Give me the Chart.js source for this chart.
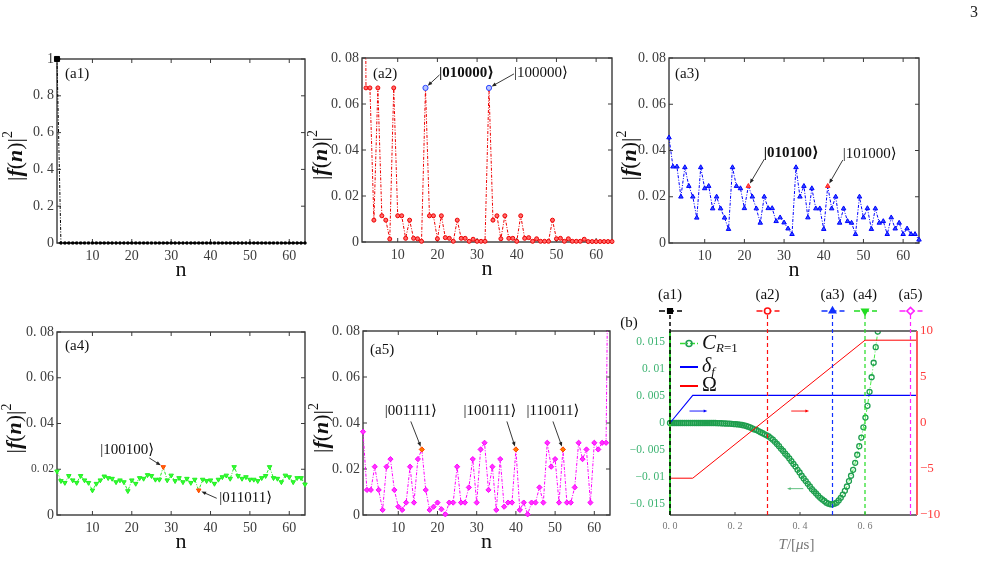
<!DOCTYPE html>
<html>
<head>
<meta charset="utf-8">
<script src="https://cdn.jsdelivr.net/npm/chart.js@4.4.1/dist/chart.umd.min.js"></script>
<style>
    html, body { margin: 0; padding: 0; background: #fff; }
    #page { position: relative; width: 987px; height: 580px; overflow: hidden; }
    #page canvas { position: absolute; left: 0; top: 0; }
    #pageno { position: absolute; left: 970px; top: 3px; font: 16px 'Liberation Serif', 'DejaVu Serif', serif; color: #222; }
</style>
</head>
<body>
<div id="page">
    <canvas id="a1" width="987" height="580"></canvas>
    <canvas id="a2" width="987" height="580"></canvas>
    <canvas id="a3" width="987" height="580"></canvas>
    <canvas id="a4" width="987" height="580"></canvas>
    <canvas id="a5" width="987" height="580"></canvas>
    <canvas id="b" width="987" height="580"></canvas>
    <div id="pageno">3</div>
</div>
<script>
// basis states n = 1..64
const nValues = Array.from({ length: 64 }, (_, i) => i + 1);
const nTicks = [10, 20, 30, 40, 50, 60];
const probTicks = [0, 0.02, 0.04, 0.06, 0.08];
const probTicksA1 = [0, 0.2, 0.4, 0.6, 0.8, 1];

// |f(n)|^2
const probA1 = [1, 0, 0, 0, 0, 0, 0, 0, 0, 0, 0, 0, 0, 0, 0, 0,
    0, 0, 0, 0, 0, 0, 0, 0, 0, 0, 0, 0, 0, 0, 0, 0,
    0, 0, 0, 0, 0, 0, 0, 0, 0, 0, 0, 0, 0, 0, 0, 0,
    0, 0, 0, 0, 0, 0, 0, 0, 0, 0, 0, 0, 0, 0, 0, 0];
const probA2 = [0.45, 0.067, 0.067, 0.0095, 0.067, 0.0114, 0.0095, 0.0013, 0.067, 0.0114,
    0.0114, 0.0016, 0.0095, 0.0016, 0.0014, 0.0003, 0.067, 0.0114, 0.0114, 0.0014,
    0.0114, 0.0019, 0.0016, 0.0003, 0.0095, 0.0016, 0.0016, 0.0003, 0.0012, 0.0003,
    0.0003, 0.0003, 0.067, 0.0095, 0.0114, 0.0014, 0.0114, 0.0016, 0.0016, 0.0003,
    0.0114, 0.0016, 0.0019, 0.0003, 0.0014, 0.0003, 0.0003, 0.0003, 0.0095, 0.0014,
    0.0016, 0.0003, 0.0014, 0.0003, 0.0003, 0.0003, 0.0012, 0.0002, 0.0002, 0.0002,
    0.0002, 0.0002, 0.0002, 0.0002];
const probA3 = [0.0456, 0.033, 0.033, 0.020, 0.0327, 0.0246, 0.020, 0.0109, 0.0327, 0.0236,
    0.0246, 0.0149, 0.020, 0.0149, 0.0109, 0.006, 0.0327, 0.0246, 0.0236, 0.015,
    0.0246, 0.020, 0.0149, 0.0087, 0.020, 0.015, 0.015, 0.0094, 0.011, 0.0088,
    0.0062, 0.0038, 0.0327, 0.020, 0.0246, 0.011, 0.0236, 0.0149, 0.0149, 0.006,
    0.0246, 0.0149, 0.020, 0.0087, 0.0149, 0.0094, 0.0087, 0.0038, 0.020, 0.011,
    0.015, 0.006, 0.0149, 0.0087, 0.0094, 0.0038, 0.011, 0.0062, 0.0087, 0.0038,
    0.0062, 0.0038, 0.0038, 0.0014];
const probA4 = [0.0191, 0.0149, 0.0141, 0.0171, 0.0152, 0.0141, 0.0171, 0.0152, 0.0141, 0.0108,
    0.0137, 0.0152, 0.0169, 0.0162, 0.0159, 0.0144, 0.0152, 0.0144, 0.0105, 0.0152,
    0.0137, 0.0162, 0.0159, 0.0175, 0.0171, 0.0155, 0.0155, 0.021, 0.0152, 0.0173,
    0.0149, 0.0162, 0.0144, 0.0159, 0.0141, 0.0155, 0.0108, 0.0155, 0.0149, 0.0152,
    0.0137, 0.0155, 0.0166, 0.0173, 0.0159, 0.021, 0.0171, 0.0159, 0.0166, 0.0155,
    0.0155, 0.0149, 0.0162, 0.0171, 0.021, 0.0162, 0.0159, 0.0144, 0.0173, 0.0166,
    0.0144, 0.0162, 0.0162, 0.0134];
const probA5 = [0.0362, 0.0109, 0.0109, 0.021, 0.0109, 0.0022, 0.021, 0.0243, 0.0109, 0.0036,
    0.0022, 0.0054, 0.021, 0.0054, 0.0243, 0.0285, 0.0109, 0.0022, 0.0036, 0.0054,
    0.0025, 0.0003, 0.0054, 0.0054, 0.021, 0.0054, 0.0054, 0.012, 0.0243, 0.0054,
    0.0285, 0.0314, 0.0109, 0.021, 0.0022, 0.0243, 0.0036, 0.0054, 0.0054, 0.0285,
    0.0022, 0.0054, 0.0003, 0.0054, 0.0054, 0.012, 0.0054, 0.0314, 0.021, 0.0243,
    0.0054, 0.0285, 0.0054, 0.0054, 0.012, 0.0314, 0.0243, 0.0285, 0.0054, 0.0314,
    0.0285, 0.0314, 0.0314, 0.2];

// highlighted states and their kets
const hlA2 = [17, 33];
const hlA3 = [21, 41];
const hlA4 = [28, 37];
const hlA5 = [16, 40, 52];
const ketsA2 = ['|010000\u27E9', '|100000\u27E9'];
const ketsA3 = ['|010100\u27E9', '|101000\u27E9'];
const ketsA4 = ['|100100\u27E9', '|011011\u27E9'];
const ketsA5 = ['|001111\u27E9', '|100111\u27E9', '|110011\u27E9'];

// panel (b)
const tStep = 0.00633;
const coherence = [0, 0, 0, 0, 0, 0, 0, 0, 0, 0,
    0, 0, 0, 0, 0, 0, 0, 0, 0, 0,
    0, 0, 0, -0.00003, -0.00004, -0.00005, -0.00007, -0.00009, -0.00011, -0.00013,
    -0.00015, -0.0002, -0.00022, -0.00026, -0.0003, -0.00037, -0.00046, -0.00056, -0.00068, -0.00082,
    -0.0010, -0.0012, -0.0013, -0.0015, -0.0017, -0.0019, -0.0021, -0.0023, -0.0025, -0.0028,
    -0.0031, -0.0035, -0.0039, -0.0043, -0.0048, -0.0052, -0.0057, -0.0061, -0.0066, -0.0071,
    -0.0076, -0.0081, -0.0087, -0.0092, -0.0098, -0.0103, -0.0108, -0.0113, -0.0118, -0.0123,
    -0.0127, -0.0131, -0.0135, -0.0139, -0.0142, -0.0145, -0.0148, -0.0150, -0.0151, -0.0151,
    -0.0150, -0.0148, -0.0144, -0.0139, -0.0133, -0.0126, -0.0118, -0.0108, -0.0098, -0.0087,
    -0.0074, -0.0059, -0.0043, -0.0027, -0.0008, 0.0010, 0.0032, 0.0058, 0.0085, 0.0112,
    0.0141, 0.0170, 0.0200];
const omegaT = [0, 0.07, 0.6, 0.76];
const omegaV = [-6, -6, 9, 9];
const detuneT = [0, 0.07, 0.76];
const detuneV = [0, 3, 3];
const markT = [0, 0.3, 0.5, 0.6, 0.74];
const markLabels = ['(a1)', '(a2)', '(a3)', '(a4)', '(a5)'];
const tTicks = [0, 0.2, 0.4, 0.6];
const cTicks = [-0.015, -0.01, -0.005, 0, 0.005, 0.01, 0.015];
const rightTicks = [-10, -5, 0, 5, 10];

const SERIF = "'Liberation Serif', 'DejaVu Serif', serif";
const TICK_COLOR = '#3c3c3c';

function fmtTick(v) {
    const a = Math.abs(v) < 1e-12 ? '0' : String(+Math.abs(v).toFixed(4));
    return (v < -1e-12 ? '\u2212' : '') + a.replace('.', '. ');
}

function drawRich(ctx, parts, x, y, rot, color) {
    ctx.save();
    ctx.translate(x, y);
    ctx.rotate(rot || 0);
    ctx.fillStyle = color || '#111';
    ctx.textBaseline = 'middle';
    ctx.textAlign = 'left';
    let w = 0;
    parts.forEach(p => { ctx.font = p.font; p.w = ctx.measureText(p.t).width; w += p.w; });
    let cx = -w / 2;
    parts.forEach(p => { ctx.font = p.font; ctx.fillText(p.t, cx, p.dy || 0); cx += p.w; });
    ctx.restore();
}

function drawArrow(ctx, x1, y1, x2, y2, color, head) {
    const a = Math.atan2(y2 - y1, x2 - x1);
    const h = head || 5;
    ctx.save();
    ctx.strokeStyle = color;
    ctx.fillStyle = color;
    ctx.lineWidth = 0.9;
    ctx.setLineDash([]);
    ctx.beginPath();
    ctx.moveTo(x1, y1);
    ctx.lineTo(x2 - h * 0.7 * Math.cos(a), y2 - h * 0.7 * Math.sin(a));
    ctx.stroke();
    ctx.beginPath();
    ctx.moveTo(x2, y2);
    ctx.lineTo(x2 - h * Math.cos(a - 0.38), y2 - h * Math.sin(a - 0.38));
    ctx.lineTo(x2 - h * Math.cos(a + 0.38), y2 - h * Math.sin(a + 0.38));
    ctx.closePath();
    ctx.fill();
    ctx.restore();
}

const yTitleParts = () => [
    { t: '|', font: '22px ' + SERIF },
    { t: 'f', font: 'italic bold 22px ' + SERIF },
    { t: '(', font: '22px ' + SERIF },
    { t: 'n', font: 'italic bold 22px ' + SERIF },
    { t: ')|', font: '22px ' + SERIF },
    { t: '2', font: '14px ' + SERIF, dy: -8 }
];

function panelPlugin(p) {
    return {
        id: 'frame_' + p.id,
        beforeDatasetsDraw(chart) {
            const ctx = chart.ctx, a = chart.chartArea;
            const xs = chart.scales.x, ys = chart.scales.y;
            ctx.save();
            ctx.strokeStyle = '#3a3a3a';
            ctx.lineWidth = 1;
            ctx.beginPath();
            xs.ticks.forEach(t => {
                const x = xs.getPixelForValue(t.value);
                ctx.moveTo(x, a.bottom); ctx.lineTo(x, a.bottom - 4);
                ctx.moveTo(x, a.top); ctx.lineTo(x, a.top + 4);
            });
            ys.ticks.forEach(t => {
                const y = ys.getPixelForValue(t.value);
                ctx.moveTo(a.left, y); ctx.lineTo(a.left + 4, y);
                ctx.moveTo(a.right, y); ctx.lineTo(a.right - 4, y);
            });
            ctx.stroke();
            ctx.lineWidth = 1.4;
            ctx.strokeRect(a.left, a.top, a.right - a.left, a.bottom - a.top);
            ctx.restore();
        },
        afterDraw(chart) {
            const ctx = chart.ctx, a = chart.chartArea;
            const xs = chart.scales.x, ys = chart.scales.y;
            // axis titles
            drawRich(ctx, yTitleParts(), a.left - p.titleGap, (a.top + a.bottom) / 2 + 5, -Math.PI / 2);
            drawRich(ctx, [{ t: 'n', font: '22px ' + SERIF }], (a.left + a.right) / 2, a.bottom + 27, 0);
            // panel label
            ctx.save();
            ctx.font = '15px ' + SERIF;
            ctx.fillStyle = '#111';
            ctx.textBaseline = 'middle';
            ctx.fillText(p.label, a.left + p.labelPos[0], a.top + p.labelPos[1]);
            ctx.restore();
            // kets with arrows
            p.highlight.forEach((n, i) => {
                const note = p.notes[i];
                const mx = xs.getPixelForValue(n), my = ys.getPixelForValue(p.values[n - 1]);
                drawRich(ctx, [{ t: p.kets[i], font: (note.bold ? 'bold ' : '') + '15px ' + SERIF }],
                    mx + note.dx, my + note.dy, 0, '#111');
                const tx = mx + note.tx, ty = my + note.ty;
                const ang = Math.atan2(my - ty, mx - tx);
                drawArrow(ctx, tx, ty, mx - 3 * Math.cos(ang), my - 3 * Math.sin(ang), '#222', 5);
            });
        }
    };
}

function makePanel(p) {
    const W_Y = 57, H_X = 40;
    const pts = nValues.map((n, i) => ({ x: n, y: p.values[i] }));
    const isHl = nValues.map(n => p.highlight.includes(n));
    new Chart(document.getElementById(p.id), {
        type: 'line',
        data: {
            datasets: [{
                data: pts,
                borderColor: p.color,
                borderWidth: 1,
                borderDash: [3, 1.5, 1, 1.5],
                tension: 0,
                pointStyle: p.marker,
                rotation: p.rotation || 0,
                pointRadius: p.radius,
                pointBackgroundColor: isHl.map(h => h ? p.hlFill : p.fill),
                pointBorderColor: isHl.map(h => h ? p.hlColor : p.color),
                pointBorderWidth: 1,
                clip: p.clip
            }]
        },
        options: {
            responsive: false,
            animation: false,
            events: [],
            layout: { padding: { left: p.rect[0] - W_Y, top: p.rect[1], right: 987 - p.rect[2], bottom: 580 - p.rect[3] - H_X } },
            plugins: { legend: { display: false }, tooltip: { enabled: false } },
            scales: {
                x: {
                    type: 'linear', min: 1, max: 64,
                    grid: { display: false, drawTicks: false, tickLength: 0 }, border: { display: false },
                    afterBuildTicks: s => { s.ticks = nTicks.map(v => ({ value: v })); },
                    afterFit: s => { s.height = H_X; },
                    ticks: { font: { family: SERIF, size: 14 }, color: TICK_COLOR, padding: 5, maxRotation: 0, autoSkip: false }
                },
                y: {
                    min: 0, max: p.yMax,
                    grid: { display: false, drawTicks: false, tickLength: 0 }, border: { display: false },
                    afterBuildTicks: s => { s.ticks = p.yTicks.map(v => ({ value: v })); },
                    afterFit: s => { s.width = W_Y; },
                    ticks: {
                        font: c => ({ family: SERIF, size: (p.smallTick !== undefined && c.tick && Math.abs(c.tick.value - p.smallTick) < 1e-9) ? 11.5 : 14 }),
                        color: TICK_COLOR, padding: 3, autoSkip: false,
                        callback: v => fmtTick(v)
                    }
                }
            }
        },
        plugins: [panelPlugin(p)]
    });
}

const clipTopOnly = { left: 6, right: 6, top: 0, bottom: 6 };

makePanel({
    id: 'a1', rect: [57, 59, 305, 243], values: probA1, yMax: 1, yTicks: probTicksA1,
    color: '#000', fill: '#000', marker: 'rect', radius: nValues.map(n => n === 1 ? 3.6 : 1.5),
    highlight: [], kets: [], notes: [], hlColor: '#000', hlFill: '#000', clip: false,
    label: '(a1)', labelPos: [8, 15], titleGap: 41
});
makePanel({
    id: 'a2', rect: [362, 58, 612, 242], values: probA2, yMax: 0.08, yTicks: probTicks,
    color: '#ee0000', fill: '#ff6a6a', marker: 'circle', radius: nValues.map(n => hlA2.includes(n) ? 2.6 : 2),
    highlight: hlA2, kets: ketsA2, hlColor: '#2a44ff', hlFill: '#b8c4ff', clip: clipTopOnly,
    notes: [{ dx: 41, dy: -15, tx: 14, ty: -13, bold: true }, { dx: 52, dy: -15, tx: 25, ty: -14 }],
    label: '(a2)', labelPos: [11, 16], titleGap: 41
});
makePanel({
    id: 'a3', rect: [669, 58, 919, 243], values: probA3, yMax: 0.08, yTicks: probTicks,
    color: '#0000ff', fill: '#3050ff', marker: 'triangle', radius: 2.6,
    highlight: hlA3, kets: ketsA3, hlColor: '#ff2020', hlFill: '#ff5050', clip: clipTopOnly,
    notes: [{ dx: 43, dy: -33, tx: 16, ty: -27, bold: true }, { dx: 42, dy: -32, tx: 15, ty: -26 }],
    label: '(a3)', labelPos: [6, 16], titleGap: 39
});
makePanel({
    id: 'a4', rect: [57, 332, 305, 515], values: probA4, yMax: 0.08, yTicks: probTicks, smallTick: 0.02,
    color: '#22ee22', fill: '#33ff33', marker: 'triangle', rotation: 180, radius: 2.6,
    highlight: hlA4, kets: ketsA4, hlColor: '#ff4400', hlFill: '#ff6a00', clip: clipTopOnly,
    notes: [{ dx: -36, dy: -17, tx: -14, ty: -9 }, { dx: 47, dy: 8, tx: 18, ty: 8 }],
    label: '(a4)', labelPos: [8, 14], titleGap: 42
});
makePanel({
    id: 'a5', rect: [363, 331, 610, 515], values: probA5, yMax: 0.08, yTicks: probTicks,
    color: '#ff00ff', fill: '#ff33ff', marker: 'rectRot', radius: 2.6,
    highlight: hlA5, kets: ketsA5, hlColor: '#ff4400', hlFill: '#ff7a00', clip: clipTopOnly,
    notes: [{ dx: -11, dy: -38, tx: -11, ty: -28 }, { dx: -26, dy: -38, tx: -9, ty: -28 }, { dx: -10, dy: -38, tx: -10, ty: -28 }],
    label: '(a5)', labelPos: [7, 19], titleGap: 41
});

// ---------- panel (b) ----------
const markStyles = [
    { color: '#000000', style: 'rect', fill: '#000000', r: 3.2, rot: 0 },
    { color: '#ff1010', style: 'circle', fill: '#ffffff', r: 3, rot: 0 },
    { color: '#1030ff', style: 'triangle', fill: '#1030ff', r: 3.6, rot: 0 },
    { color: '#22dd22', style: 'triangle', fill: '#22dd22', r: 3.6, rot: 180 },
    { color: '#ff22ff', style: 'rectRot', fill: '#ffffff', r: 3.6, rot: 0 }
];

const bPlugin = {
    id: 'bframe',
    afterDatasetsDraw(chart) {
        const ctx = chart.ctx, a = chart.chartArea;
        const xs = chart.scales.x, yl = chart.scales.y, yr = chart.scales.y2;
        ctx.save();
        // spines
        ctx.lineWidth = 1.5;
        ctx.strokeStyle = '#444';
        ctx.beginPath();
        ctx.moveTo(a.left, a.top); ctx.lineTo(a.right, a.top);
        ctx.moveTo(a.left, a.bottom); ctx.lineTo(a.right, a.bottom);
        ctx.stroke();
        ctx.beginPath();
        tTicks.forEach(t => {
            const x = xs.getPixelForValue(t);
            ctx.moveTo(x, a.bottom); ctx.lineTo(x, a.bottom - 3);
        });
        ctx.lineWidth = 1;
        ctx.stroke();
        ctx.lineWidth = 2;
        ctx.strokeStyle = '#ff5a5a';
        ctx.beginPath(); ctx.moveTo(a.right, a.top); ctx.lineTo(a.right, a.bottom); ctx.stroke();
        ctx.strokeStyle = '#2fd12f';
        ctx.beginPath(); ctx.moveTo(a.left, a.top); ctx.lineTo(a.left, a.bottom); ctx.stroke();

        // marker lines for panels (a1)-(a5)
        markT.forEach((t, i) => {
            const st = markStyles[i];
            const x = xs.getPixelForValue(t);
            const my = a.top - 20;
            ctx.setLineDash([4, 3]);
            ctx.lineWidth = i === 0 ? 1.5 : 1.2;
            ctx.strokeStyle = st.color;
            ctx.beginPath(); ctx.moveTo(x, my + 4); ctx.lineTo(x, a.bottom); ctx.stroke();
            ctx.setLineDash([6, 3]);
            ctx.lineWidth = 1.6;
            ctx.beginPath(); ctx.moveTo(x - 11, my); ctx.lineTo(x + 12, my); ctx.stroke();
            ctx.setLineDash([]);
            ctx.fillStyle = st.fill;
            ctx.strokeStyle = st.color;
            Chart.helpers.drawPoint(ctx, { pointStyle: st.style, radius: st.r, rotation: st.rot, borderWidth: 1.3 }, x, my);
            ctx.fillStyle = '#111';
            ctx.font = '15px ' + SERIF;
            ctx.textAlign = 'center';
            ctx.textBaseline = 'middle';
            ctx.fillText(markLabels[i], x, a.top - 36);
        });

        // legend
        const lx = a.left + 10, lw = 18;
        const rows = [a.top + 12.5, a.top + 36, a.top + 55];
        ctx.setLineDash([5, 2, 1, 2]);
        ctx.lineWidth = 1.5;
        ctx.strokeStyle = '#33dd33';
        ctx.beginPath(); ctx.moveTo(lx, rows[0]); ctx.lineTo(lx + lw, rows[0]); ctx.stroke();
        ctx.setLineDash([]);
        ctx.strokeStyle = '#1e9e4e';
        ctx.fillStyle = 'rgba(0,0,0,0)';
        Chart.helpers.drawPoint(ctx, { pointStyle: 'circle', radius: 3, borderWidth: 1.8 }, lx + lw / 2, rows[0]);
        ctx.lineWidth = 2;
        ctx.strokeStyle = '#0000ff';
        ctx.beginPath(); ctx.moveTo(lx, rows[1]); ctx.lineTo(lx + lw, rows[1]); ctx.stroke();
        ctx.strokeStyle = '#ff0000';
        ctx.beginPath(); ctx.moveTo(lx, rows[2]); ctx.lineTo(lx + lw, rows[2]); ctx.stroke();
        ctx.restore();

        const leg = [
            [{ t: 'C', font: 'italic 21px ' + SERIF }, { t: 'R', font: 'italic 13px ' + SERIF, dy: 5 }, { t: '=1', font: '13px ' + SERIF, dy: 5 }],
            [{ t: '\u03B4', font: 'italic 20px ' + SERIF }, { t: 'f', font: 'italic 13px ' + SERIF, dy: 6 }],
            [{ t: '\u03A9', font: '20px ' + SERIF }]
        ];
        leg.forEach((parts, i) => {
            ctx.save();
            let w = 0;
            parts.forEach(p => { ctx.font = p.font; w += ctx.measureText(p.t).width; });
            ctx.restore();
            drawRich(ctx, parts, lx + lw + 4 + w / 2, rows[i], 0, '#111');
        });

        // direction arrows
        const yb = yr.getPixelForValue(1.3);
        drawArrow(ctx, xs.getPixelForValue(0.06), yb, xs.getPixelForValue(0.115), yb, '#0000ff', 4);
        drawArrow(ctx, xs.getPixelForValue(0.373), yb, xs.getPixelForValue(0.428), yb, '#ff0000', 4);
        const yg = yl.getPixelForValue(-0.0122);
        drawArrow(ctx, xs.getPixelForValue(0.41), yg, xs.getPixelForValue(0.36), yg, '#55bb77', 4);

        // titles
        drawRich(ctx, [
            { t: 'T', font: 'italic 15px ' + SERIF }, { t: '/[', font: '15px ' + SERIF },
            { t: '\u03BC', font: 'italic 15px ' + SERIF }, { t: 's]', font: '15px ' + SERIF }
        ], (a.left + a.right) / 2 + 3, a.bottom + 30, 0, '#777');
        drawRich(ctx, [{ t: '(b)', font: '15px ' + SERIF }], a.left - 41, a.top - 8, 0, '#111');
    }
};

const W_L = 60, W_R = 30, H_B = 40;
const bRect = [670, 331, 917, 515];
const bGrid = { display: false, drawTicks: false, tickLength: 0 };
new Chart(document.getElementById('b'), {
    type: 'line',
    data: {
        datasets: [
            {
                label: '\u03A9', yAxisID: 'y2',
                data: omegaT.map((t, i) => ({ x: t, y: omegaV[i] })),
                borderColor: '#ff0000', borderWidth: 1, pointRadius: 0, tension: 0
            },
            {
                label: '\u03B4f', yAxisID: 'y2',
                data: detuneT.map((t, i) => ({ x: t, y: detuneV[i] })),
                borderColor: '#0000ff', borderWidth: 1.1, pointRadius: 0, tension: 0
            },
            {
                label: 'C', yAxisID: 'y',
                data: coherence.map((v, k) => ({ x: k * tStep, y: v })),
                borderColor: '#44ee44', borderWidth: 1, borderDash: [4, 2, 1, 2], tension: 0,
                pointStyle: 'circle', pointRadius: 2.5, pointBorderWidth: 1.3,
                pointBorderColor: '#1e9e4e', pointBackgroundColor: 'rgba(0,0,0,0)',
                clip: { left: 4, right: 0, top: 0, bottom: 4 }
            }
        ]
    },
    options: {
        responsive: false,
        animation: false,
        events: [],
        layout: { padding: { left: bRect[0] - W_L, top: bRect[1], right: 987 - bRect[2] - W_R, bottom: 580 - bRect[3] - H_B } },
        plugins: { legend: { display: false }, tooltip: { enabled: false } },
        scales: {
            x: {
                type: 'linear', min: 0, max: 0.76,
                grid: bGrid, border: { display: false },
                afterBuildTicks: s => { s.ticks = tTicks.map(v => ({ value: v })); },
                afterFit: s => { s.height = H_B; },
                ticks: { font: { family: SERIF, size: 10 }, color: '#777', padding: 5, maxRotation: 0, autoSkip: false,
                    callback: v => v.toFixed(1).replace('.', '. ') }
            },
            y: {
                position: 'left', min: -0.0171, max: 0.0171,
                grid: bGrid, border: { display: false },
                afterBuildTicks: s => { s.ticks = cTicks.map(v => ({ value: v })); },
                afterFit: s => { s.width = W_L; },
                ticks: { font: { family: SERIF, size: 11.5 }, color: '#3cb371', padding: 5, autoSkip: false, callback: v => fmtTick(v) }
            },
            y2: {
                position: 'right', min: -10, max: 10,
                grid: bGrid, border: { display: false },
                afterBuildTicks: s => { s.ticks = rightTicks.map(v => ({ value: v })); },
                afterFit: s => { s.width = W_R; },
                ticks: { font: { family: SERIF, size: 13 }, color: '#ff3b3b', padding: 3, autoSkip: false, callback: v => fmtTick(v) }
            }
        }
    },
    plugins: [bPlugin]
});
</script>
</body>
</html>
